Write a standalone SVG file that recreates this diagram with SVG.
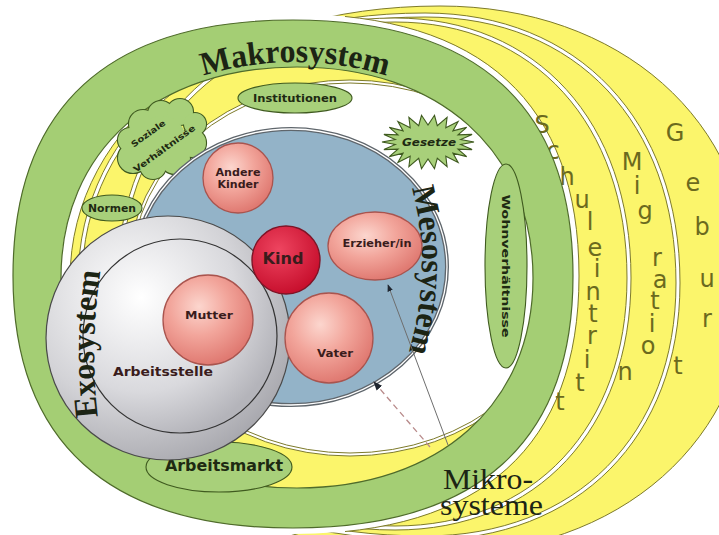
<svg xmlns="http://www.w3.org/2000/svg" width="719" height="535" viewBox="0 0 719 535">
<style>
.yl{fill:#fbf56b;stroke:#7d7a2a;stroke-width:1}
.wg{fill:#ffffff;stroke:#7d7a2a;stroke-width:1}
.lab{fill:#a8d07a;stroke:#3f5a1f;stroke-width:1.1}
.pink{fill:url(#gPink);stroke:#a9544e;stroke-width:1.3}
.sm{font-family:"DejaVu Sans",sans-serif;font-weight:bold;fill:#1e2a12;text-anchor:middle}
.pk{font-family:"DejaVu Sans",sans-serif;font-weight:bold;fill:#3a1c1c;text-anchor:middle}
.big{font-family:"Liberation Serif",serif;fill:#1c2414}
.hl{font-family:"DejaVu Sans",sans-serif;font-size:24px;fill:#6b6a1e;text-anchor:middle}
.conn{fill:none;stroke:#6e6e6e;stroke-width:1}
</style>
<defs>
<radialGradient id="gPink" cx="40%" cy="35%" r="65%"><stop offset="0" stop-color="#fcd6ce"/><stop offset="0.5" stop-color="#f2a59b"/><stop offset="1" stop-color="#e07a72"/></radialGradient>
<radialGradient id="gKind" cx="40%" cy="35%" r="65%"><stop offset="0" stop-color="#ee4560"/><stop offset="1" stop-color="#c8102e"/></radialGradient>
<radialGradient id="gGrayO" cx="35%" cy="32%" r="75%"><stop offset="0" stop-color="#ffffff"/><stop offset="0.6" stop-color="#d2d2d6"/><stop offset="1" stop-color="#a6a6ac"/></radialGradient>
<radialGradient id="gGrayI" cx="30%" cy="30%" r="75%"><stop offset="0" stop-color="#ffffff"/><stop offset="0.65" stop-color="#d9d9dd"/><stop offset="1" stop-color="#b4b4ba"/></radialGradient>
<clipPath id="cR"><rect x="345" y="0" width="400" height="540"/></clipPath>
<marker id="ah" viewBox="0 0 10 10" refX="9" refY="5" markerWidth="7" markerHeight="7" orient="auto"><path d="M0,1 L10,5 L0,9 Z" fill="#1f2630"/></marker>
<path id="pMakro" d="M37,276 A258,214 0 0 1 553,276"/>
<path id="pMeso" d="M408,176 Q437,268 405,364"/>
<path id="pExo" d="M100,432 Q87,345 103,256"/>
</defs>

<g id="transitions">
<path class="yl" d="M750,280 C750,439 620,554 440,554 C225,554 70,439 70,280 C70,121 225,6 440,6 C620,6 750,121 750,280Z"/>
<path class="wg" d="M680,283 C680,437 578,540 425,540 C217,540 78,437 78,283 C78,121 217,13 425,13 C578,13 680,121 680,283Z"/>
<path class="yl" d="M676,283 C676,435 576,536 425,536 C219,536 82,435 82,283 C82,123 219,17 425,17 C576,17 676,123 676,283Z"/>
<path class="wg" d="M631,278 C631,429 537,530 395,530 C229,530 118,429 118,278 C118,122 229,18 395,18 C537,18 631,122 631,278Z"/>
<path class="yl" d="M627,278 C627,427 534,526 395,526 C231,526 122,427 122,278 C122,124 231,22 395,22 C534,22 627,124 627,278Z"/>
<path d="M573,276 C573,442 478,528 293,528 C108,528 13,442 13,276 C13,107 108,20 293,20 C478,20 573,107 573,276Z" fill="none" stroke="#ffffff" stroke-width="12"/>
<path d="M293,14 C482,14 579,103 579,276 C579,446 482,534 293,534" fill="none" stroke="#7d7a2a" stroke-width="1" clip-path="url(#cR)"/>
<g class="hl">
<text x="542" y="133">S</text><text x="553" y="159">c</text><text x="567" y="185">h</text><text x="582" y="208">u</text><text x="590" y="230">l</text><text x="595" y="256">e</text><text x="597" y="277">i</text><text x="593" y="300">n</text><text x="593" y="322">t</text><text x="592" y="344">r</text><text x="587" y="368">i</text><text x="580" y="391">t</text><text x="560" y="410">t</text>
<text x="632" y="170">M</text><text x="637" y="194">i</text><text x="645" y="219">g</text><text x="657" y="266">r</text><text x="660" y="288">a</text><text x="655" y="309">t</text><text x="652" y="332">i</text><text x="648" y="354">o</text><text x="625" y="380">n</text>
<text x="675" y="141">G</text><text x="693" y="191">e</text><text x="702" y="235">b</text><text x="707" y="287">u</text><text x="707" y="327">r</text><text x="678" y="374">t</text>
</g>
</g>

<g id="inner-space">
<ellipse cx="350" cy="268" rx="221" ry="188" class="wg"/>
<ellipse cx="350" cy="268" rx="218" ry="185" class="wg"/>
</g>

<g id="makrosystem">
<path fill="#a4ce74" stroke="#4f6b2b" stroke-width="1.2" fill-rule="evenodd" d="M573,276 C573,442 478,528 293,528 C108,528 13,442 13,276 C13,107 108,20 293,20 C478,20 573,107 573,276Z M533,278 C533,404 439,488 297,488 C155,488 61,404 61,278 C61,151 155,67 297,67 C439,67 533,151 533,278Z"/>
<text class="big" font-size="33" font-weight="bold"><textPath href="#pMakro" startOffset="50%" text-anchor="middle" textLength="186" lengthAdjust="spacingAndGlyphs">Makrosystem</textPath></text>
</g>

<g id="institutionen">
<ellipse cx="295" cy="98" rx="57" ry="15" class="lab"/>
<text class="sm" x="295" y="102" font-size="10" textLength="84" lengthAdjust="spacingAndGlyphs">Institutionen</text>
</g>

<g id="soziale-verhaeltnisse">
<g fill="#a8d07a" stroke="#3f5a1f" stroke-width="2.2">
<circle cx="133" cy="158" r="15"/><circle cx="130" cy="140" r="12"/><circle cx="143" cy="124" r="14"/><circle cx="161" cy="114" r="13"/><circle cx="180" cy="112" r="13"/><circle cx="195" cy="124" r="11"/><circle cx="192" cy="143" r="14"/><circle cx="175" cy="159" r="15"/><circle cx="153" cy="166" r="13"/>
</g>
<g fill="#a8d07a">
<circle cx="133" cy="158" r="15"/><circle cx="130" cy="140" r="12"/><circle cx="143" cy="124" r="14"/><circle cx="161" cy="114" r="13"/><circle cx="180" cy="112" r="13"/><circle cx="195" cy="124" r="11"/><circle cx="192" cy="143" r="14"/><circle cx="175" cy="159" r="15"/><circle cx="153" cy="166" r="13"/><circle cx="162" cy="140" r="24"/>
</g>
<text class="sm" font-size="8.5" transform="translate(150,136) rotate(-36)" textLength="40" lengthAdjust="spacingAndGlyphs">Soziale</text>
<text class="sm" font-size="8.5" transform="translate(166,151) rotate(-36)" textLength="74" lengthAdjust="spacingAndGlyphs">Verhältnisse</text>
</g>

<g id="gesetze">
<polygon class="lab" points="474,142 460.7,144.4 472.1,149.6 458,149.1 466.7,156.6 452.9,153.1 458.1,162.4 445.8,156.3 447.1,166.6 437.3,158.3 434.5,168.7 428,159 421.5,168.7 418.7,158.3 408.9,166.6 410.2,156.3 397.9,162.4 403.1,153.1 389.3,156.6 398,149.1 383.9,149.6 395.3,144.4 382,142 395.3,139.6 383.9,134.4 398,134.9 389.3,127.4 403.1,130.9 397.9,121.6 410.2,127.7 408.9,117.4 418.7,125.7 421.5,115.3 428,125 434.5,115.3 437.3,125.7 447.1,117.4 445.8,127.7 458.1,121.6 452.9,130.9 466.7,127.4 458,134.9 472.1,134.4 460.7,139.6"/>
<text class="sm" x="429" y="146" font-size="10" font-style="italic" textLength="54" lengthAdjust="spacingAndGlyphs">Gesetze</text>
</g>

<g id="wohnverhaeltnisse">
<ellipse cx="506" cy="266" rx="21" ry="102" class="lab"/>
<text class="sm" font-size="10.5" transform="translate(502,266) rotate(90)" textLength="143" lengthAdjust="spacingAndGlyphs">Wohnverhältnisse</text>
</g>

<g id="mesosystem">
<ellipse cx="291" cy="267" rx="156" ry="138" fill="#93b3c8" stroke="#5f666c" stroke-width="4"/>
<ellipse cx="291" cy="267" rx="156" ry="138" fill="none" stroke="#ffffff" stroke-width="1.3"/>
<text class="big" font-size="33" font-weight="bold"><textPath href="#pMeso" startOffset="50%" text-anchor="middle" textLength="166" lengthAdjust="spacingAndGlyphs">Mesosystem</textPath></text>
</g>

<g id="normen">
<ellipse cx="112" cy="208" rx="30" ry="13" class="lab"/>
<text class="sm" x="112" y="212" font-size="10" textLength="48" lengthAdjust="spacingAndGlyphs">Normen</text>
</g>

<g id="arbeitsmarkt">
<ellipse cx="219" cy="467" rx="73" ry="25" class="lab"/>
<text class="sm" x="224" y="471" font-size="15" textLength="118" lengthAdjust="spacingAndGlyphs">Arbeitsmarkt</text>
</g>

<g id="exosystem">
<circle cx="168" cy="338" r="122" fill="url(#gGrayO)" stroke="#4a4a4a" stroke-width="1.2"/>
<circle cx="180" cy="336" r="97" fill="url(#gGrayI)" stroke="#333333" stroke-width="1.2"/>
<text class="big" font-size="33" font-weight="bold"><textPath href="#pExo" startOffset="50%" text-anchor="middle" textLength="146" lengthAdjust="spacingAndGlyphs">Exosystem</textPath></text>
<text class="pk" x="163" y="376" font-size="12.5" textLength="100" lengthAdjust="spacingAndGlyphs">Arbeitsstelle</text>
</g>

<g id="mutter">
<circle cx="208" cy="320" r="45" class="pink"/>
<text class="pk" x="209" y="319" font-size="11" textLength="48" lengthAdjust="spacingAndGlyphs">Mutter</text>
</g>

<g id="andere-kinder">
<circle cx="238" cy="178" r="35" class="pink"/>
<text class="pk" x="238" y="176" font-size="10" textLength="45" lengthAdjust="spacingAndGlyphs">Andere</text>
<text class="pk" x="238" y="188" font-size="10" textLength="41" lengthAdjust="spacingAndGlyphs">Kinder</text>
</g>

<g id="erzieher">
<ellipse cx="375" cy="246" rx="47" ry="34" class="pink"/>
<text class="pk" x="377" y="247" font-size="10.5" textLength="69" lengthAdjust="spacingAndGlyphs">Erzieher/in</text>
</g>

<g id="vater">
<ellipse cx="329" cy="338" rx="44" ry="45" class="pink"/>
<text class="pk" x="335" y="357" font-size="11" textLength="36" lengthAdjust="spacingAndGlyphs">Vater</text>
</g>

<g id="kind">
<circle cx="286" cy="260" r="34" fill="url(#gKind)" stroke="#7e1426" stroke-width="1.4"/>
<text class="pk" x="283" y="264" font-size="15" fill="#3a0a10" textLength="41" lengthAdjust="spacingAndGlyphs">Kind</text>
</g>

<g id="connectors">
<line class="conn" x1="448" y1="445" x2="388" y2="285" marker-end="url(#ah)"/>
<line x1="430" y1="447" x2="374" y2="382" stroke="#b88a8a" stroke-width="1.3" stroke-dasharray="6 4" marker-end="url(#ah)"/>
</g>

<g id="mikrosysteme">
<text class="big" x="443" y="489" font-size="29" textLength="90" lengthAdjust="spacingAndGlyphs">Mikro-</text>
<text class="big" x="440" y="515" font-size="29" textLength="103" lengthAdjust="spacingAndGlyphs">systeme</text>
</g>
</svg>
